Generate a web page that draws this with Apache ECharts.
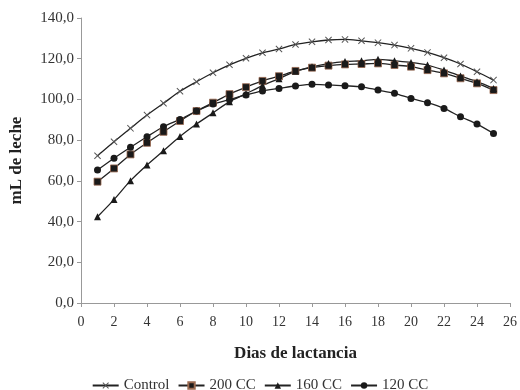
<!DOCTYPE html>
<html>
<head>
<meta charset="utf-8">
<script src="https://cdn.jsdelivr.net/npm/echarts@6/dist/echarts.min.js"></script>
<style>
  html, body { margin: 0; padding: 0; background: #fff; }
  #chart { width: 520px; height: 390px; }
</style>
</head>
<body>
<div id="chart"></div>
<script>
// dias 1..25
var dias = [1, 2, 3, 4, 5, 6, 7, 8, 9, 10, 11, 12, 13, 14, 15, 16, 17, 18, 19, 20, 21, 22, 23, 24, 25];

var control = [72.3, 79.2, 85.8, 92.3, 98.1, 104.0, 108.7, 113.1, 117.0, 120.2, 122.9, 124.8, 127.0, 128.3, 129.2, 129.5, 128.8, 127.9, 126.7, 125.1, 123.1, 120.5, 117.4, 113.6, 109.5];
var cc200 = [59.6, 66.1, 73.0, 78.7, 84.1, 89.4, 94.3, 98.4, 102.6, 106.0, 109.1, 111.4, 114.0, 115.6, 116.6, 117.2, 117.4, 117.7, 116.9, 116.1, 114.4, 112.8, 110.4, 107.9, 104.6];
var cc160 = [42.4, 50.8, 60.1, 67.8, 74.8, 81.8, 87.9, 93.4, 98.9, 102.8, 106.8, 110.2, 113.8, 116.0, 117.6, 118.6, 119.0, 119.7, 119.0, 118.2, 116.9, 114.4, 111.5, 108.7, 105.4];
var cc120 = [65.3, 71.1, 76.5, 81.7, 86.6, 90.2, 94.3, 97.7, 99.9, 102.2, 104.2, 105.4, 106.6, 107.4, 107.1, 106.7, 106.2, 104.6, 103.0, 100.5, 98.4, 95.6, 91.5, 87.9, 83.3];

var nombres = ['Control', '200 CC', '160 CC', '120 CC'];

var crossPath = 'path://M0,1L1,0L5,4L9,0L10,1L6,5L10,9L9,10L5,6L1,10L0,9L4,5Z';

function pares(vals) {
    var out = [];
    for (var i = 0; i < dias.length; i++) out.push([dias[i], vals[i]]);
    return out;
}

var fuente = 'Liberation Serif, Times New Roman, serif';

var chart = echarts.init(document.getElementById('chart'));
chart.setOption({
    animation: false,
    textStyle: { fontFamily: fuente },
    grid: { left: 80, right: 8, top: 18, bottom: 87 },
    legend: {
        data: nombres,
        bottom: -8,
        left: 'center',
        itemWidth: 26,
        itemHeight: 8,
        itemGap: 8,
        textStyle: { fontFamily: fuente, fontSize: 15, color: '#333' }
    },
    xAxis: {
        type: 'value',
        min: 0, max: 26, interval: 2,
        name: 'Dias de lactancia',
        nameLocation: 'middle',
        nameGap: 42,
        nameTextStyle: { fontFamily: fuente, fontSize: 17, fontWeight: 'bold', color: '#222' },
        axisLine: { lineStyle: { color: '#999' } },
        axisTick: { show: true, length: 4, lineStyle: { color: '#999' } },
        axisLabel: { fontFamily: fuente, fontSize: 14, color: '#333', margin: 12 },
        splitLine: { show: false }
    },
    yAxis: {
        type: 'value',
        min: 0, max: 140, interval: 20,
        name: 'mL de leche',
        nameLocation: 'middle',
        nameGap: 56,
        nameTextStyle: { fontFamily: fuente, fontSize: 17, fontWeight: 'bold', color: '#222' },
        axisLine: { show: true, lineStyle: { color: '#999' } },
        axisTick: { show: true, length: 4, lineStyle: { color: '#999' } },
        axisLabel: {
            fontFamily: fuente, fontSize: 15, color: '#333', margin: 7,
            formatter: function (v) { return v.toFixed(1).replace('.', ','); }
        },
        splitLine: { show: false }
    },
    series: [
        {
            name: 'Control', type: 'line', data: pares(control),
            symbol: crossPath, symbolSize: 7, smooth: 0.3,
            lineStyle: { color: '#222', width: 1.3 },
            itemStyle: { color: '#555' }
        },
        {
            name: '200 CC', type: 'line', data: pares(cc200),
            symbol: 'rect', symbolSize: 7, smooth: 0.3,
            lineStyle: { color: '#222', width: 1.3 },
            itemStyle: { color: '#1a1a1a', borderColor: '#9a6a50', borderWidth: 0.8 }
        },
        {
            name: '160 CC', type: 'line', data: pares(cc160),
            symbol: 'triangle', symbolSize: 7, smooth: 0.3,
            lineStyle: { color: '#222', width: 1.3 },
            itemStyle: { color: '#1a1a1a' }
        },
        {
            name: '120 CC', type: 'line', data: pares(cc120),
            symbol: 'circle', symbolSize: 7, smooth: 0.3,
            lineStyle: { color: '#222', width: 1.3 },
            itemStyle: { color: '#1a1a1a' }
        }
    ]
});
</script>
</body>
</html>
